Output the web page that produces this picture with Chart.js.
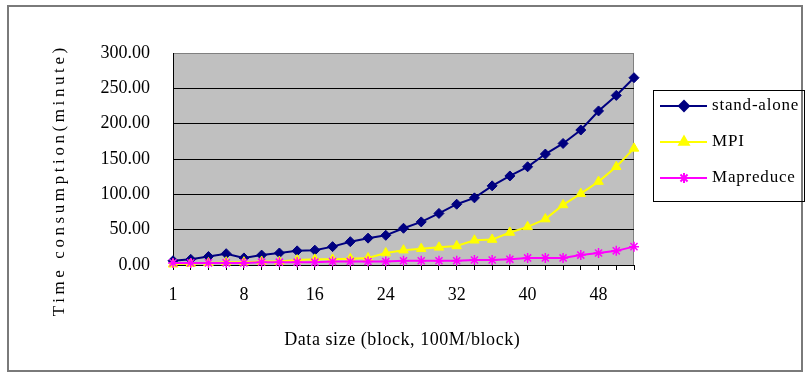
<!DOCTYPE html>
<html>
<head>
<meta charset="utf-8">
<script src="https://cdn.jsdelivr.net/npm/chart.js@4.4.0/dist/chart.umd.min.js"></script>
<style>
  html, body { margin: 0; padding: 0; background: #fff; }
  #rahmen { position: absolute; left: 7px; top: 5px; width: 792px; height: 363px; border: 2px solid #7a7a7a; }
  #wrap { position: absolute; left: 0; top: 0; width: 809px; height: 377px; }
</style>
</head>
<body>
<div id="rahmen"></div>
<div id="wrap"><canvas id="zeitChart" width="809" height="377"></canvas></div>
<script>
// Kategorien (Datengröße in Blöcken)
const bloecke = ['1', '2', '4', '6', '8', '10', '12', '14', '16', '18', '20', '22', '24', '26',
    '28', '30', '32', '34', '36', '38', '40', '42', '44', '46', '48', '50', '52'];

// Zeitverbrauch in Minuten
const standAlone = [6, 8, 12, 16, 10, 14, 17, 20, 21, 26, 33, 38, 42, 52,
    61, 73, 86, 95, 112, 126, 139, 157, 172, 191, 218, 240, 265];
const mpi = [1, 2, 3, 4, 4, 5, 5, 7, 8, 8, 9, 10, 17, 21,
    23, 25, 27, 35, 36, 46, 54, 65, 85, 101, 118, 139, 165];
const mapreduce = [3, 3, 3, 3, 3, 4, 4, 4, 4, 5, 5, 5, 5, 6,
    6, 6, 6, 7, 7, 8, 10, 10, 10, 14, 17, 20, 26];

const yTicks = [0, 50, 100, 150, 200, 250, 300];
const serienNamen = ['stand-alone', 'MPI', 'Mapreduce'];
const yTitel = 'Time consumption(minute)';
const xTitel = 'Data size (block, 100M/block)';

const SCHRIFT = "'Liberation Serif', 'Times New Roman', serif";
Chart.defaults.font.family = SCHRIFT;
Chart.defaults.font.size = 18;
Chart.defaults.color = '#000';

// grauer Hintergrund der Zeichenfläche
const hintergrund = {
    id: 'hintergrund',
    beforeDraw(chart) {
        const { ctx, chartArea: a } = chart;
        ctx.save();
        ctx.fillStyle = '#c0c0c0';
        ctx.fillRect(a.left, a.top, a.right - a.left, a.bottom - a.top);
        ctx.strokeStyle = '#808080';
        ctx.lineWidth = 1;
        ctx.strokeRect(a.left + 0.5, a.top + 0.5, a.right - a.left - 1, a.bottom - a.top);
        ctx.restore();
    }
};

function gesperrtText(ctx, text, x, y, breite) {
    ctx.letterSpacing = '0px';
    const w = ctx.measureText(text).width;
    const ls = Math.max(0, (breite - w) / text.length);
    ctx.letterSpacing = ls + 'px';
    ctx.fillText(text, x + ls / 2, y);
    ctx.letterSpacing = '0px';
}

// Achsentitel und Legende
const beschriftung = {
    id: 'beschriftung',
    afterDraw(chart) {
        const ctx = chart.ctx;
        ctx.save();
        ctx.fillStyle = '#000';
        ctx.textAlign = 'center';
        ctx.textBaseline = 'middle';

        ctx.font = '17px ' + SCHRIFT;
        ctx.save();
        ctx.translate(60, 182);
        ctx.rotate(-Math.PI / 2);
        gesperrtText(ctx, yTitel, 0, 0, 272);
        ctx.restore();

        ctx.font = '18px ' + SCHRIFT;
        gesperrtText(ctx, xTitel, 402, 340, 236);

        // Legende
        ctx.strokeStyle = '#000';
        ctx.lineWidth = 1;
        ctx.strokeRect(653.5, 90.5, 151, 111);
        const zeilen = [106, 142, 178];
        chart.data.datasets.forEach((ds, i) => {
            const y = zeilen[i];
            ctx.strokeStyle = ds.borderColor;
            ctx.lineWidth = 2;
            ctx.beginPath();
            ctx.moveTo(660, y);
            ctx.lineTo(707, y);
            ctx.stroke();
            ctx.fillStyle = ds.pointBackgroundColor;
            ctx.strokeStyle = ds.pointBorderColor;
            Chart.helpers.drawPoint(ctx, {
                pointStyle: ds.pointStyle,
                radius: ds.pointRadius,
                rotation: 0,
                borderWidth: ds.pointBorderWidth
            }, 684, y);
            ctx.fillStyle = '#000';
            ctx.textAlign = 'left';
            ctx.font = '17px ' + SCHRIFT;
            ctx.letterSpacing = '0.8px';
            ctx.fillText(ds.label, 712, y);
            ctx.letterSpacing = '0px';
        });
        ctx.restore();
    }
};

const ctx = document.getElementById('zeitChart').getContext('2d');

const zeitChart = new Chart(ctx, {
    type: 'line',
    data: {
        labels: bloecke,
        datasets: [
            {
                label: serienNamen[0],
                data: standAlone,
                borderColor: '#000080',
                backgroundColor: '#000080',
                pointBackgroundColor: '#000080',
                pointBorderColor: '#000080',
                pointStyle: 'rectRot',
                pointRadius: 5,
                pointBorderWidth: 1,
                order: 3
            },
            {
                label: serienNamen[1],
                data: mpi,
                borderColor: '#ffff00',
                backgroundColor: '#ffff00',
                pointBackgroundColor: '#ffff00',
                pointBorderColor: '#ffff00',
                pointStyle: 'triangle',
                pointRadius: 5.5,
                pointBorderWidth: 1,
                order: 2
            },
            {
                label: serienNamen[2],
                data: mapreduce,
                borderColor: '#ff00ff',
                backgroundColor: '#ff00ff',
                pointBackgroundColor: '#ff00ff',
                pointBorderColor: '#ff00ff',
                pointStyle: 'star',
                pointRadius: 5,
                pointBorderWidth: 1.5,
                order: 1
            }
        ]
    },
    options: {
        responsive: false,
        animation: false,
        layout: { padding: { top: 53, right: 175, left: 0, bottom: 0 } },
        datasets: { line: { borderWidth: 2, tension: 0, clip: false } },
        plugins: {
            legend: { display: false },
            title: { display: false },
            tooltip: { enabled: false }
        },
        scales: {
            x: {
                type: 'category',
                offset: false,
                afterFit: s => { s.height = 112; },
                border: { color: '#000', width: 1 },
                grid: {
                    drawOnChartArea: false,
                    drawTicks: true,
                    tickLength: 5,
                    color: '#000'
                },
                ticks: {
                    autoSkip: false,
                    maxRotation: 0,
                    padding: 14,
                    callback: function(val, index) {
                        return index % 4 === 0 ? bloecke[index] : '';
                    }
                }
            },
            y: {
                min: 0,
                max: 300,
                afterFit: s => { s.width = 173; },
                afterBuildTicks: s => { s.ticks = yTicks.map(v => ({ value: v })); },
                border: { color: '#000', width: 1 },
                grid: {
                    drawTicks: false,
                    color: c => (c.tick && c.tick.value === 300) ? 'rgba(0,0,0,0)' : '#000',
                    lineWidth: 1
                },
                ticks: {
                    padding: 23,
                    callback: v => Number(v).toFixed(2)
                }
            }
        }
    },
    plugins: [hintergrund, beschriftung]
});
</script>
</body>
</html>
